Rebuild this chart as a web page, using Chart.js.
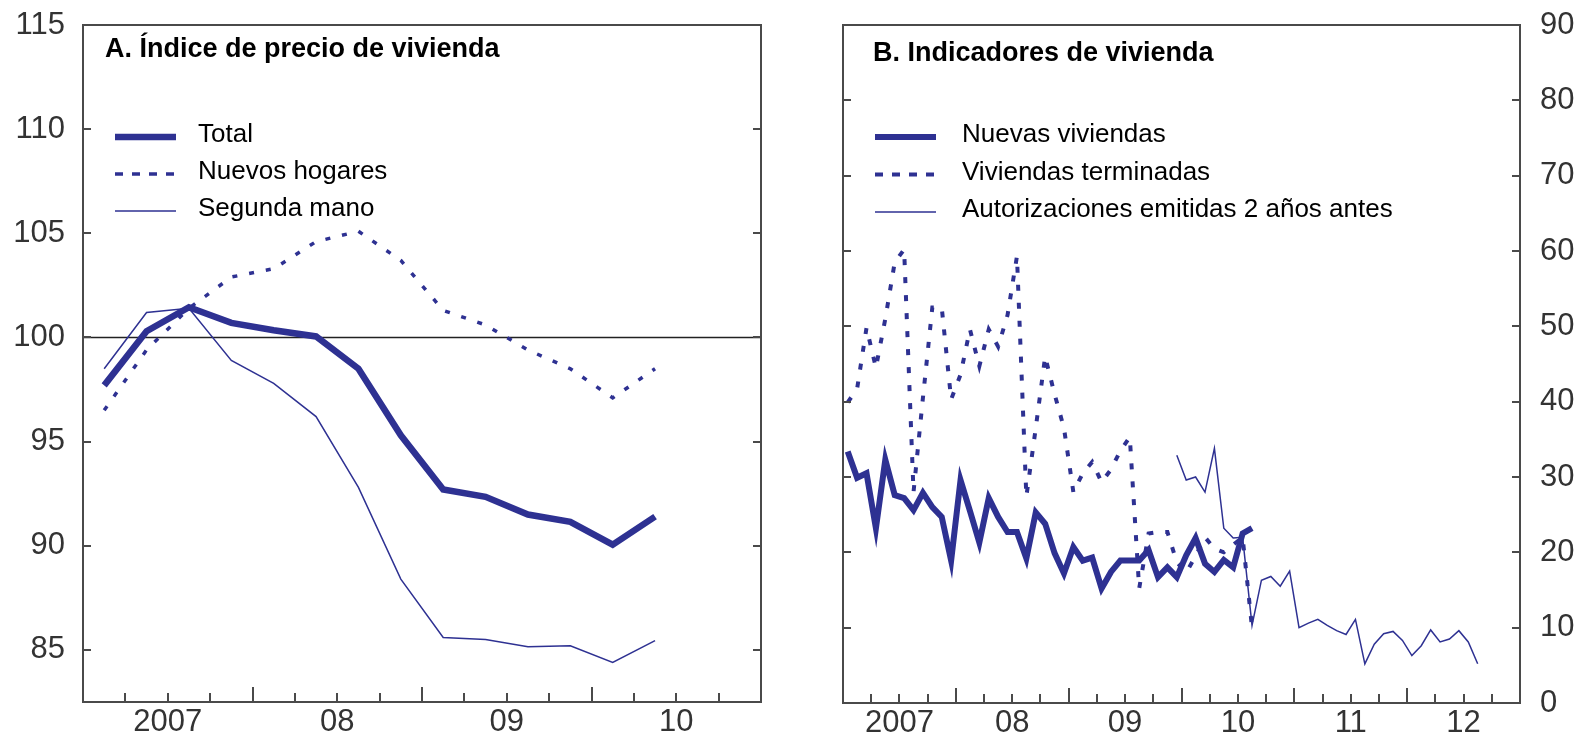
<!DOCTYPE html>
<html lang="es">
<head>
<meta charset="utf-8">
<title>Precio e indicadores de vivienda</title>
<script src="https://cdn.jsdelivr.net/npm/chart.js@4.4.1/dist/chart.umd.min.js"></script>
<style>
  html, body { margin: 0; padding: 0; background: #fff; }
  #wrap { position: relative; width: 1583px; height: 739px; }
  #chartA { position: absolute; left: 0; top: 0; }
  #chartB { position: absolute; left: 800px; top: 0; }
</style>
</head>
<body>
<div id="wrap">
  <canvas id="chartA" width="800" height="739"></canvas>
  <canvas id="chartB" width="783" height="739"></canvas>
</div>
<script>
// --- Panel A: índice de precio de vivienda (trimestral, 2007 T1 - 2010 T2)
const quartersA = ['2007T1', '2007T2', '2007T3', '2007T4', '2008T1', '2008T2', '2008T3', '2008T4',
  '2009T1', '2009T2', '2009T3', '2009T4', '2010T1', '2010T2']
const totalA = [97.7, 100.3, 101.45, 100.7, 100.35, 100.05, 98.5, 95.3, 92.7, 92.35, 91.5, 91.15, 90.05, 91.4]
const nuevosHogaresA = [96.5, 99.4, 101.4, 102.9, 103.3, 104.6, 105.1, 103.7, 101.3, 100.6, 99.4, 98.5, 97.1, 98.5]
const segundaManoA = [98.5, 101.2, 101.4, 98.9, 97.8, 96.2, 92.8, 88.4, 85.6, 85.5, 85.15, 85.2, 84.4, 85.45]
const yearLabelsA = ['2007', '08', '09', '10']
const yTicksA = [85, 90, 95, 100, 105, 110, 115]

// --- Panel B: indicadores de vivienda (mensual, ene 2007 - ago 2012)
const monthsB = [
  'ene-07', 'feb-07', 'mar-07', 'abr-07', 'may-07', 'jun-07', 'jul-07', 'ago-07', 'sep-07', 'oct-07', 'nov-07', 'dic-07',
  'ene-08', 'feb-08', 'mar-08', 'abr-08', 'may-08', 'jun-08', 'jul-08', 'ago-08', 'sep-08', 'oct-08', 'nov-08', 'dic-08',
  'ene-09', 'feb-09', 'mar-09', 'abr-09', 'may-09', 'jun-09', 'jul-09', 'ago-09', 'sep-09', 'oct-09', 'nov-09', 'dic-09',
  'ene-10', 'feb-10', 'mar-10', 'abr-10', 'may-10', 'jun-10', 'jul-10', 'ago-10', 'sep-10', 'oct-10', 'nov-10', 'dic-10',
  'ene-11', 'feb-11', 'mar-11', 'abr-11', 'may-11', 'jun-11', 'jul-11', 'ago-11', 'sep-11', 'oct-11', 'nov-11', 'dic-11',
  'ene-12', 'feb-12', 'mar-12', 'abr-12', 'may-12', 'jun-12', 'jul-12', 'ago-12'
]
const nuevasViviendasB = [
  33.4, 29.9, 30.5, 23.2, 32.3, 27.6, 27.2, 25.6, 27.9, 26.0, 24.7, 18.9,
  29.6, 25.5, 21.3, 27.2, 24.7, 22.7, 22.7, 19.2, 25.3, 23.8, 19.9, 17.2,
  20.7, 18.9, 19.3, 15.2, 17.4, 18.9, 18.9, 18.9, 20.3, 16.7, 18.0, 16.7,
  19.6, 21.9, 18.5, 17.4, 19.0, 18.0, 22.5, 23.2, null, null, null, null,
  null, null, null, null, null, null, null, null, null, null, null, null,
  null, null, null, null, null, null, null, null
]
const viviendasTerminadasB = [
  39.9, 41.7, 49.8, 44.5, 51.0, 58.5, 60.2, 28.0, 40.5, 52.5, 52.5, 40.3,
  43.6, 49.6, 44.7, 49.6, 47.3, 51.5, 59.3, 27.4, 36.5, 46.0, 41.0, 36.5,
  28.0, 30.5, 32.0, 29.3, 31.0, 33.5, 35.3, 15.2, 22.5, 22.7, 22.7, 18.7,
  17.3, 19.5, 22.0, 20.5, 20.0, 21.0, 22.0, 10.0, null, null, null, null,
  null, null, null, null, null, null, null, null, null, null, null, null,
  null, null, null, null, null, null, null, null
]
const autorizacionesB = [
  null, null, null, null, null, null, null, null, null, null, null, null,
  null, null, null, null, null, null, null, null, null, null, null, null,
  null, null, null, null, null, null, null, null, null, null, null, 32.9,
  29.6, 30.0, 28.0, 33.8, 23.2, 21.9, 22.0, 10.3, 16.3, 16.8, 15.5, 17.5,
  10.0, 10.6, 11.1, 10.3, 9.6, 9.1, 11.1, 5.2, 7.8, 9.2, 9.5, 8.3,
  6.3, 7.6, 9.7, 8.1, 8.5, 9.6, 8.1, 5.2
]
const yearLabelsB = ['2007', '08', '09', '10', '11', '12']
const yTicksB = [0, 10, 20, 30, 40, 50, 60, 70, 80, 90]

const BLUE = '#2e3192'
const FONT = '"Liberation Sans", Arial, sans-serif'
Chart.defaults.font.family = FONT
Chart.defaults.color = '#333'

// points sit in the middle of their period: x = index + 0.5
const toPoints = vals => vals.map((v, i) => (v === null ? null : { x: i + 0.5, y: v })).filter(Boolean)

// keep the plot box where the layout padding puts it (no extra room for edge labels)
const noEdgePad = (s, size) => {
  if (s.isHorizontal()) s.height = size
  else s.width = size
  s.paddingTop = 0; s.paddingBottom = 0; s.paddingLeft = 0; s.paddingRight = 0
}

// box, inward ticks, reference line, title and legend
const framePlugin = {
  id: 'frame',
  beforeDatasetsDraw(chart, args, o) {
    if (o.refLine == null) return
    const { ctx, chartArea: a } = chart
    const py = chart.scales.y.getPixelForValue(o.refLine)
    ctx.save()
    ctx.strokeStyle = '#222'
    ctx.lineWidth = 1.6
    ctx.beginPath(); ctx.moveTo(a.left, py); ctx.lineTo(a.right, py); ctx.stroke()
    ctx.restore()
  },
  afterDraw(chart, args, o) {
    const { ctx, chartArea: a } = chart
    const xs = chart.scales.x, ys = chart.scales.y
    ctx.save()
    ctx.strokeStyle = '#4a4a4a'
    ctx.lineWidth = 2
    ctx.strokeRect(a.left, a.top, a.right - a.left, a.bottom - a.top)
    ctx.beginPath()
    o.yTicks.forEach(v => {
      const py = Math.round(ys.getPixelForValue(v))
      ctx.moveTo(a.left, py); ctx.lineTo(a.left + 8, py)
      ctx.moveTo(a.right, py); ctx.lineTo(a.right - 8, py)
    })
    for (let k = o.minorStep; k < o.xMax; k += o.minorStep) {
      const px = Math.round(xs.getPixelForValue(k))
      const len = k % o.majorStep === 0 ? 15 : 9
      ctx.moveTo(px, a.bottom); ctx.lineTo(px, a.bottom - len)
    }
    ctx.stroke()

    ctx.fillStyle = '#000'
    ctx.font = 'bold 27px ' + FONT
    ctx.textBaseline = 'alphabetic'
    ctx.fillText(o.title.text, o.title.x, o.title.y)

    ctx.font = '26px ' + FONT
    o.legend.forEach((item, i) => {
      const ly = o.legendY + i * o.legendGap
      const ds = chart.data.datasets[i]
      ctx.strokeStyle = ds.borderColor
      ctx.lineWidth = ds.borderWidth
      ctx.setLineDash(item.dash || [])
      ctx.beginPath(); ctx.moveTo(o.legendX, ly); ctx.lineTo(o.legendX + 61, ly); ctx.stroke()
      ctx.setLineDash([])
      ctx.fillText(ds.label, o.legendTextX, ly + 5)
    })
    ctx.restore()
  }
}

new Chart(document.getElementById('chartA'), {
  type: 'line',
  data: {
    labels: quartersA,
    datasets: [
      { label: 'Total', data: toPoints(totalA), borderColor: BLUE, borderWidth: 6.5 },
      { label: 'Nuevos hogares', data: toPoints(nuevosHogaresA), borderColor: BLUE, borderWidth: 3.5, borderDash: [5, 12] },
      { label: 'Segunda mano', data: toPoints(segundaManoA), borderColor: BLUE, borderWidth: 1.5 }
    ]
  },
  plugins: [framePlugin],
  options: {
    responsive: false,
    animation: false,
    layout: { padding: { top: 25, right: 39, left: 0, bottom: 0 } },
    elements: { point: { radius: 0 }, line: { tension: 0 } },
    plugins: {
      legend: { display: false },
      tooltip: { enabled: false },
      frame: {
        refLine: 100,
        yTicks: yTicksA,
        xMax: 16, minorStep: 1, majorStep: 4,
        title: { text: 'A. Índice de precio de vivienda', x: 105, y: 57 },
        legendX: 115, legendTextX: 198, legendY: 137, legendGap: 37,
        legend: [{}, { dash: [8, 9] }, {}]
      }
    },
    scales: {
      x: {
        type: 'linear', min: 0, max: 16,
        grid: { display: false, drawTicks: false }, border: { display: false },
        afterBuildTicks: s => { s.ticks = yearLabelsA.map((_, i) => ({ value: i * 4 + 2 })) },
        afterFit: s => noEdgePad(s, 37),
        ticks: { font: { size: 31 }, padding: 2, maxRotation: 0, autoSkip: false,
          callback: (v, i) => yearLabelsA[i] }
      },
      y: {
        min: 82.5, max: 115,
        grid: { display: false, drawTicks: false }, border: { display: false },
        afterBuildTicks: s => { s.ticks = yTicksA.map(v => ({ value: v })) },
        afterFit: s => noEdgePad(s, 83),
        ticks: { font: { size: 31 }, padding: 18 }
      }
    }
  }
})

new Chart(document.getElementById('chartB'), {
  type: 'line',
  data: {
    labels: monthsB,
    datasets: [
      { label: 'Nuevas viviendas', data: toPoints(nuevasViviendasB), borderColor: BLUE, borderWidth: 6 },
      { label: 'Viviendas terminadas', data: toPoints(viviendasTerminadasB), borderColor: BLUE, borderWidth: 4, borderDash: [6, 12] },
      { label: 'Autorizaciones emitidas 2 años antes', data: toPoints(autorizacionesB), borderColor: BLUE, borderWidth: 1.5 }
    ]
  },
  plugins: [framePlugin],
  options: {
    responsive: false,
    animation: false,
    layout: { padding: { top: 25, right: 0, left: 43, bottom: 0 } },
    elements: { point: { radius: 0 }, line: { tension: 0 } },
    plugins: {
      legend: { display: false },
      tooltip: { enabled: false },
      frame: {
        yTicks: yTicksB,
        xMax: 72, minorStep: 3, majorStep: 12,
        title: { text: 'B. Indicadores de vivienda', x: 73, y: 61 },
        legendX: 75, legendTextX: 162, legendY: 137, legendGap: 37.5,
        legend: [{}, { dash: [8, 9] }, {}]
      }
    },
    scales: {
      x: {
        type: 'linear', min: 0, max: 72,
        grid: { display: false, drawTicks: false }, border: { display: false },
        afterBuildTicks: s => { s.ticks = yearLabelsB.map((_, i) => ({ value: i * 12 + 6 })) },
        afterFit: s => noEdgePad(s, 36),
        ticks: { font: { size: 31 }, padding: 2, maxRotation: 0, autoSkip: false,
          callback: (v, i) => yearLabelsB[i] }
      },
      y: {
        position: 'right',
        min: 0, max: 90,
        grid: { display: false, drawTicks: false }, border: { display: false },
        afterBuildTicks: s => { s.ticks = yTicksB.map(v => ({ value: v })) },
        afterFit: s => noEdgePad(s, 63),
        ticks: { font: { size: 31 }, padding: 20 }
      }
    }
  }
})
</script>
</body>
</html>
